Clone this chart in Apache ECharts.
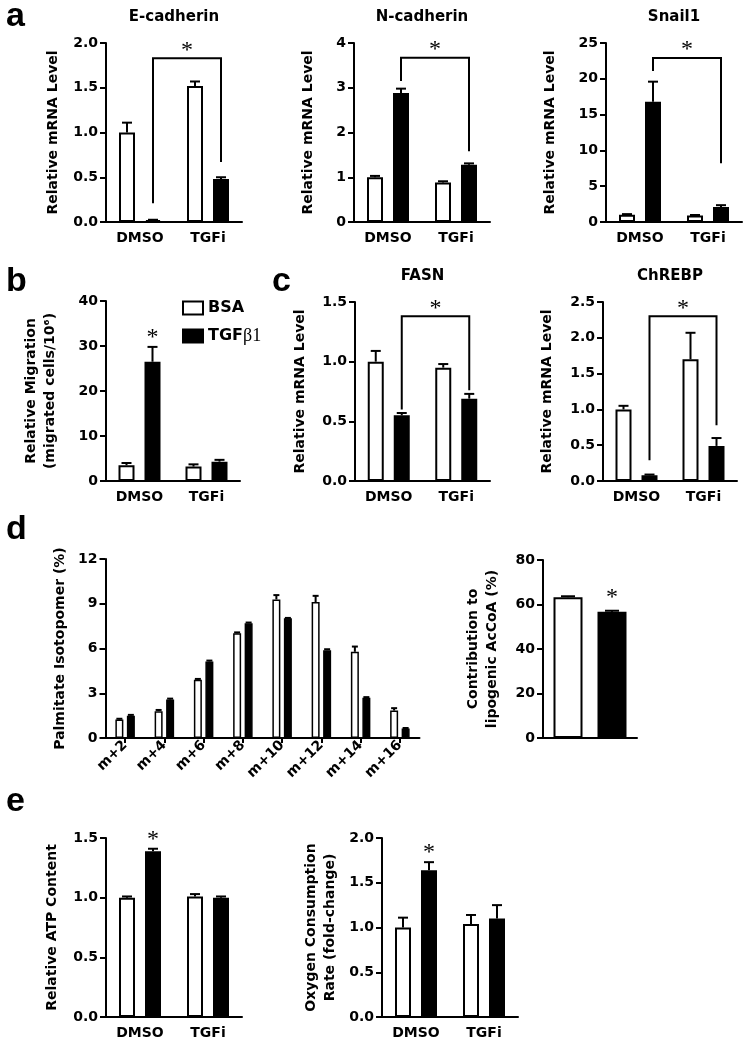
<!DOCTYPE html>
<html><head><meta charset="utf-8">
<script src="https://cdn.jsdelivr.net/npm/echarts@6/dist/echarts.min.js"></script>
<style>html,body{margin:0;padding:0;background:#fff}#c{width:751px;height:1049px}</style>
</head><body><div id="c"></div>
<script>
// ---------- DATA ----------
const groups = ['DMSO', 'TGFi'];
const isoCats = ['m+2', 'm+4', 'm+6', 'm+8', 'm+10', 'm+12', 'm+14', 'm+16'];
const contribCats = [''];

const ecadBSA = [1.00, 1.52];   const ecadBSAErr = [0.11, 0.05];
const ecadTGF = [0.02, 0.48];   const ecadTGFErr = [0.005, 0.02];
const ncadBSA = [1.00, 0.88];   const ncadBSAErr = [0.03, 0.03];
const ncadTGF = [2.88, 1.28];   const ncadTGFErr = [0.10, 0.03];
const snailBSA = [1.0, 0.9];    const snailBSAErr = [0.1, 0.08];
const snailTGF = [16.8, 2.1];   const snailTGFErr = [2.8, 0.25];
const migBSA = [3.5, 3.2];      const migBSAErr = [0.5, 0.5];
const migTGF = [26.5, 4.3];     const migTGFErr = [3.3, 0.4];
const fasnBSA = [1.00, 0.95];   const fasnBSAErr = [0.09, 0.03];
const fasnTGF = [0.55, 0.69];   const fasnTGFErr = [0.02, 0.04];
const chrebpBSA = [1.00, 1.70]; const chrebpBSAErr = [0.05, 0.37];
const chrebpTGF = [0.08, 0.49]; const chrebpTGFErr = [0.01, 0.11];
const isoBSA = [1.24, 1.80, 3.91, 7.02, 9.29, 9.11, 5.78, 1.84];
const isoBSAErr = [0.05, 0.08, 0.05, 0.06, 0.29, 0.42, 0.35, 0.16];
const isoTGF = [1.50, 2.58, 5.13, 7.69, 8.02, 5.89, 2.69, 0.64];
const isoTGFErr = [0.05, 0.06, 0.06, 0.05, 0.03, 0.06, 0.05, 0.03];
const contribBSA = [63.3];      const contribBSAErr = [0.4];
const contribTGF = [56.7];      const contribTGFErr = [0.5];
const atpBSA = [1.00, 1.01];    const atpBSAErr = [0.01, 0.02];
const atpTGF = [1.39, 1.00];    const atpTGFErr = [0.02, 0.01];
const ocrBSA = [1.00, 1.04];    const ocrBSAErr = [0.11, 0.10];
const ocrTGF = [1.64, 1.10];    const ocrTGFErr = [0.09, 0.15];

// tick labels
const ecadTicks = [0, 0.5, 1.0, 1.5, 2.0];
const ncadTicks = [0, 1, 2, 3, 4];
const snailTicks = [0, 5, 10, 15, 20, 25];
const migTicks = [0, 10, 20, 30, 40];
const fasnTicks = [0, 0.5, 1.0, 1.5];
const chrebpTicks = [0, 0.5, 1.0, 1.5, 2.0, 2.5];
const isoTicks = [0, 3, 6, 9, 12];
const contribTicks = [0, 20, 40, 60, 80];
const atpTicks = [0, 0.5, 1.0, 1.5];
const ocrTicks = [0, 0.5, 1.0, 1.5, 2.0];

// significance brackets: [fromCat, fromBar, toCat, toBar, top, leftBottom, rightBottom]
const ecadBracket = [0, 1, 1, 1, 1.83, 0.21, 0.67];
const ncadBracket = [0, 1, 1, 1, 3.67, 3.15, 1.58];
const snailBracket = [0, 1, 1, 1, 22.9, 21.1, 8.2];
const fasnBracket = [0, 1, 1, 1, 1.38, 0.60, 0.76];
const chrebpBracket = [0, 1, 1, 1, 2.30, 0.29, 0.78];
// stars over single bars: [cat, bar]
const migStar = [0, 1];
const contribStar = [0, 1];
const atpStar = [0, 1];
const ocrStar = [0, 1];

// ---------- LAYOUT ----------
const FONT = '"DejaVu Sans"';
const panels = [
  {title:'E-cadherin', cats:groups, ticks:ecadTicks, dec:1, name:'Relative mRNA Level', d:[ecadBSA,ecadBSAErr,ecadTGF,ecadTGFErr], br:ecadBracket,
   g:{left:106, top:43, width:136, height:179}, ng:43, bw:16, bg:0.625, cap:5, bwid:2},
  {title:'N-cadherin', cats:groups, ticks:ncadTicks, dec:0, name:'Relative mRNA Level', d:[ncadBSA,ncadBSAErr,ncadTGF,ncadTGFErr], br:ncadBracket,
   g:{left:354, top:43, width:136, height:179}, ng:36, bw:16, bg:0.625, cap:5, bwid:2},
  {title:'Snail1', cats:groups, ticks:snailTicks, dec:0, name:'Relative mRNA Level', d:[snailBSA,snailBSAErr,snailTGF,snailTGFErr], br:snailBracket,
   g:{left:606, top:43, width:136, height:179}, ng:46, bw:16, bg:0.625, cap:5, bwid:2},
  {cats:groups, ticks:migTicks, dec:0, name:'Relative Migration\n(migrated cells/10\u2076)', d:[migBSA,migBSAErr,migTGF,migTGFErr], star:migStar, sg:12,
   g:{left:106, top:301, width:134, height:180}, ng:46, bw:16, bg:0.625, cap:5, bwid:2, legend:true},
  {title:'FASN', cats:groups, ticks:fasnTicks, dec:1, name:'Relative mRNA Level', d:[fasnBSA,fasnBSAErr,fasnTGF,fasnTGFErr], br:fasnBracket,
   g:{left:355, top:302, width:135, height:179}, ng:45, bw:16, bg:0.625, cap:5, bwid:2},
  {title:'ChREBP', cats:groups, ticks:chrebpTicks, dec:1, name:'Relative mRNA Level', d:[chrebpBSA,chrebpBSAErr,chrebpTGF,chrebpTGFErr], br:chrebpBracket,
   g:{left:603, top:302, width:134, height:179}, ng:46, bw:16, bg:0.625, cap:5, bwid:2},
  {cats:isoCats, ticks:isoTicks, dec:0, name:'Palmitate Isotopomer (%)', d:[isoBSA,isoBSAErr,isoTGF,isoTGFErr], iso:true,
   g:{left:105.5, top:559, width:314, height:179}, ng:36, bw:8, bg:0.4375, cap:3, bwid:1.5},
  {cats:contribCats, ticks:contribTicks, dec:0, name:'Contribution to\nlipogenic AcCoA (%)', d:[contribBSA,contribBSAErr,contribTGF,contribTGFErr], star:contribStar, sg:16, nolabel:true,
   g:{left:543, top:560, width:94, height:178}, ng:41, bw:29, bg:0.517, cap:7, bwid:2},
  {cats:groups, ticks:atpTicks, dec:1, name:'Relative ATP Content', d:[atpBSA,atpBSAErr,atpTGF,atpTGFErr], star:atpStar, sg:12,
   g:{left:106, top:838, width:136, height:179}, ng:44, bw:16, bg:0.625, cap:5, bwid:2},
  {cats:groups, ticks:ocrTicks, dec:1, name:'Oxygen Consumption\nRate (fold-change)', d:[ocrBSA,ocrBSAErr,ocrTGF,ocrTGFErr], star:ocrStar, sg:12,
   g:{left:382, top:838, width:136, height:179}, ng:42, bw:16, bg:0.625, cap:5, bwid:2}
];

function off(p, bar) { return (bar === 0 ? -1 : 1) * p.bw / 2 * (1 + p.bg); }

function errRender(p, bar) {
  return function (params, api) {
    const c = api.value(0), v = api.value(1), e = api.value(2);
    const p0 = api.coord([c, v]), p1 = api.coord([c, v + e]);
    const x = p0[0] + off(p, bar);
    const st = {stroke:'#000', lineWidth:2};
    return {type:'group', children:[
      {type:'line', shape:{x1:x, y1:p0[1], x2:x, y2:p1[1]}, style:st},
      {type:'line', shape:{x1:x - p.cap, y1:p1[1], x2:x + p.cap, y2:p1[1]}, style:st}
    ]};
  };
}

function starText(x, y) {
  return {type:'text', x:x, y:y, style:{text:'*', font:'24px "Liberation Serif"', fill:'#000', textAlign:'center', textVerticalAlign:'middle'}};
}

function bracketRender(p) {
  return function (params, api) {
    const c0 = api.value(0), b0 = api.value(1), c1 = api.value(2), b1 = api.value(3);
    const top = api.value(4), lb = api.value(5), rb = api.value(6);
    const x0 = api.coord([c0, top])[0] + off(p, b0);
    const x1 = api.coord([c1, top])[0] + off(p, b1);
    const yt = api.coord([c0, top])[1], yl = api.coord([c0, lb])[1], yr = api.coord([c1, rb])[1];
    return {type:'group', children:[
      {type:'polyline', shape:{points:[[x0, yl], [x0, yt], [x1, yt], [x1, yr]]}, style:{stroke:'#000', lineWidth:2, fill:null}},
      starText((x0 + x1) / 2, yt - 8)
    ]};
  };
}

function starRender(p) {
  return function (params, api) {
    const c = api.value(0), b = api.value(1), v = api.value(2);
    const pt = api.coord([c, v]);
    return starText(pt[0] + off(p, b), pt[1] - p.sg + 3);
  };
}

const grid = [], xAxis = [], yAxis = [], series = [], graphic = [];
panels.forEach((p, i) => {
  grid.push(Object.assign({outerBoundsMode:'none', containLabel:false}, p.g));
  xAxis.push({
    type:'category', gridIndex:i, data:p.cats,
    axisLine:{show:true, lineStyle:{color:'#000', width:2}},
    axisTick:{show:!!p.iso, alignWithLabel:true, length:5, lineStyle:{color:'#000', width:2}},
    axisLabel:{show:!p.nolabel, interval:0, color:'#000', fontFamily:FONT, fontWeight:'bold', fontSize:14,
      margin:p.iso ? 5 : 9, rotate:p.iso ? 45 : 0},
    splitLine:{show:false}
  });
  const t = p.ticks;
  yAxis.push({
    type:'value', gridIndex:i, min:t[0], max:t[t.length - 1], interval:t[1] - t[0],
    name:p.name, nameLocation:'middle', nameRotate:90, nameGap:p.ng,
    nameTextStyle:{color:'#000', fontFamily:FONT, fontWeight:'bold', fontSize:14, lineHeight:19, align:'center'},
    axisLine:{show:true, lineStyle:{color:'#000', width:2}},
    axisTick:{show:true, length:6, lineStyle:{color:'#000', width:2}},
    axisLabel:{color:'#000', fontFamily:FONT, fontWeight:'bold', fontSize:14, margin:8,
      formatter:v => v.toFixed(p.dec)},
    splitLine:{show:false}
  });
  const [bsa, bsaE, tgf, tgfE] = p.d;
  series.push({type:'bar', name:'BSA', xAxisIndex:i, yAxisIndex:i, data:bsa, barWidth:p.bw, barGap:(p.bg * 100) + '%',
    itemStyle:{color:'#fff', borderColor:'#000', borderWidth:p.bwid}, silent:true, z:2});
  series.push({type:'bar', name:'TGF\u03b21', xAxisIndex:i, yAxisIndex:i, data:tgf, barWidth:p.bw, barGap:(p.bg * 100) + '%',
    itemStyle:{color:'#000', borderColor:'#000', borderWidth:p.bwid}, silent:true, z:2});
  series.push({type:'custom', xAxisIndex:i, yAxisIndex:i, encode:{x:0, y:1}, silent:true, z:3,
    data:bsa.map((v, k) => [k, v, bsaE[k]]), renderItem:errRender(p, 0)});
  series.push({type:'custom', xAxisIndex:i, yAxisIndex:i, encode:{x:0, y:1}, silent:true, z:3,
    data:tgf.map((v, k) => [k, v, tgfE[k]]), renderItem:errRender(p, 1)});
  if (p.br) {
    series.push({type:'custom', xAxisIndex:i, yAxisIndex:i, encode:{x:0, y:4}, silent:true, z:4,
      data:[p.br], renderItem:bracketRender(p)});
  }
  if (p.star) {
    const [c, b] = p.star;
    const top = b === 0 ? bsa[c] + bsaE[c] : tgf[c] + tgfE[c];
    series.push({type:'custom', xAxisIndex:i, yAxisIndex:i, encode:{x:0, y:2}, silent:true, z:4,
      data:[[c, b, top]], renderItem:starRender(p)});
  }
  if (p.title) {
    graphic.push({type:'text', x:p.g.left + p.g.width / 2, y:p.g.top - 33,
      style:{text:p.title, font:'bold 15px ' + FONT, fill:'#000', textAlign:'center', textVerticalAlign:'top'}});
  }
});

[['a', 6, 0], ['b', 6, 265], ['c', 272, 265], ['d', 6, 513], ['e', 6, 785]].forEach(([s, x, y]) => {
  graphic.push({type:'text', x:x, y:y, style:{text:s, font:'bold 34px "Liberation Sans"', fill:'#000', textVerticalAlign:'top'}});
});

const chart = echarts.init(document.getElementById('c'), null, {renderer:'canvas'});
chart.setOption({
  animation:false,
  backgroundColor:'#fff',
  grid, xAxis, yAxis, series, graphic,
  legend:{
    left:177, top:295, orient:'vertical', itemWidth:20, itemHeight:13, itemGap:11, selectedMode:false,
    icon:'rect',
    data:[
      {name:'BSA', itemStyle:{color:'#fff', borderColor:'#000', borderWidth:2}},
      {name:'TGF\u03b21', itemStyle:{color:'#000', borderColor:'#000', borderWidth:2}}
    ],
    formatter:n => n === 'BSA' ? '{s|BSA}' : '{s|TGF}{g|\u03b21}',
    textStyle:{color:'#000', rich:{
      s:{fontFamily:FONT, fontWeight:'bold', fontSize:16, color:'#000'},
      g:{fontFamily:'"Liberation Serif"', fontSize:18, color:'#000'}
    }}
  }
});
</script></body></html>
